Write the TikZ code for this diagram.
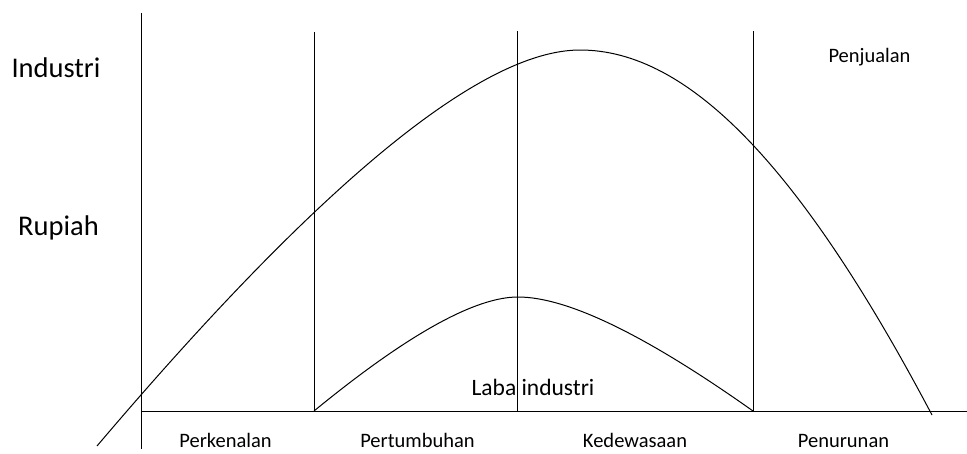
\documentclass[tikz,border=0pt]{standalone}
\usepackage{fontspec}
\setmainfont{Carlito}
\begin{document}
\begin{tikzpicture}[x=1pt,y=-1pt,
  ln/.style={line width=1pt,black},
  big/.style={anchor=base,inner sep=0pt,font=\fontsize{28.5}{30}\selectfont},
  lbl/.style={anchor=base,inner sep=0pt,font=\fontsize{20.5}{22}\selectfont},
  mid/.style={anchor=base,inner sep=0pt,font=\fontsize{23.5}{25}\selectfont}]
\useasboundingbox (0,0) rectangle (967,453);
% vertical dividers
\coordinate (v1t) at (141,13);  \coordinate (v1b) at (141,449);
\coordinate (v2t) at (314,32);  \coordinate (v2b) at (314,411);
\coordinate (v3t) at (517,31);  \coordinate (v3b) at (517,411);
\coordinate (v4t) at (753,31);  \coordinate (v4b) at (753,411);
\coordinate (bl) at (141,411);  \coordinate (br) at (967,411);
\draw[ln] (v1t) -- (v1b);
\draw[ln] (v2t) -- (v2b);
\draw[ln] (v3t) -- (v3b);
\draw[ln] (v4t) -- (v4b);
\draw[ln] (bl) -- (br);
% sales curve
\coordinate (s0) at (97,446);
\coordinate (sp) at (580,50);
\coordinate (s1) at (932,415);
\draw[ln] (s0) .. controls (321,182) and (482,50) .. (sp)
          .. controls (688,50) and (800,165) .. (s1);
% profit curve
\coordinate (p0) at (314,411);
\coordinate (pp) at (518,297);
\coordinate (p1) at (753,411);
\draw[ln] (p0) .. controls (406.7,335) and (474.7,297) .. (pp)
          .. controls (567.3,297) and (645.7,335) .. (p1);
% labels
\node[big] (ind) at (56,77) {Industri};
\node[big] (rup) at (58.5,235) {Rupiah};
\node[lbl] (pen) at (869.5,62) {Penjualan};
\node[mid] (laba) at (533,395) {Laba industri};
\node[lbl] (s1l) at (225.5,447) {Perkenalan};
\node[lbl] (s2l) at (417.5,447) {Pertumbuhan};
\node[lbl] (s3l) at (635,447) {Kedewasaan};
\node[lbl] (s4l) at (843.5,447) {Penurunan};
\end{tikzpicture}
\end{document}
